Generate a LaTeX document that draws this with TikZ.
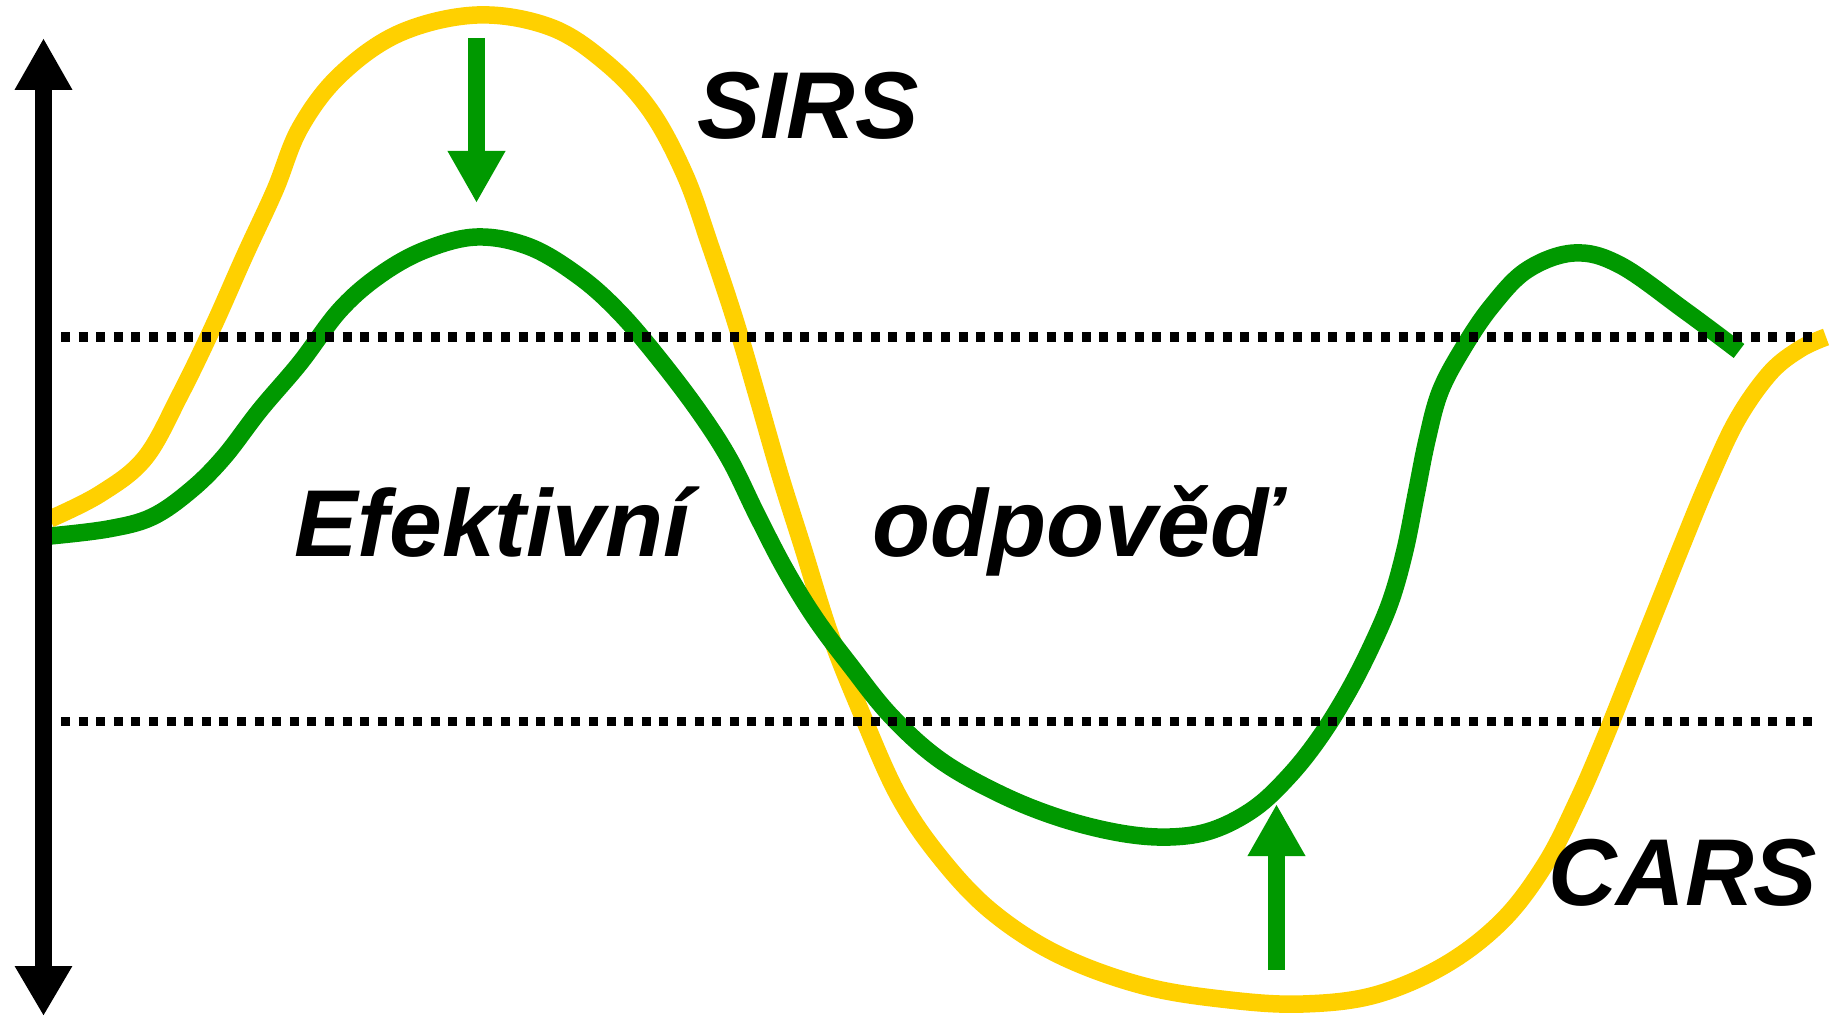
\documentclass[tikz,border=0pt]{standalone}
\usepackage{fontspec}
\setmainfont{Liberation Sans}
\usetikzlibrary{arrows.meta}
\definecolor{sirsyellow}{RGB}{255,208,0}
\definecolor{respgreen}{RGB}{0,153,0}
\tikzset{
  curveline/.style={line width=17.5pt, line cap=butt, line join=round},
  dotline/.style={line width=9pt, dash pattern=on 9pt off 8.6pt, black},
  bigarrow/.style={line width=17pt, -{Triangle[width=54pt,length=52pt]}},
  bigtext/.style={inner sep=0pt, anchor=base west, font=\fontsize{95}{100}\selectfont\bfseries\itshape},
}
\begin{document}
\begin{tikzpicture}[x=1pt,y=-1pt]
\useasboundingbox (0,0) rectangle (1834,1016);
% yellow SIRS/CARS curve
\draw[curveline, sirsyellow] plot[smooth, tension=0.6] coordinates {
(50,519) (100,494) (145,458) (180,395) (213,327) (245,255) (275,190) (300,128)
(340,75) (400,33) (477,15) (550,27) (605,62) (650,110) (685,175) (710,245)
(735,320) (757,395) (780,475) (803,548) (830,634) (861,712) (898,795) (939,856)
(991,911) (1059,955) (1144,986) (1230,1000) (1303,1004) (1375,995) (1445,965)
(1503,920) (1546,863) (1578,800) (1604,740) (1630,675) (1656,610) (1682,545)
(1708,482) (1737,420) (1770,373) (1800,349) (1826,337)};
% green effective response curve
\draw[curveline, respgreen] plot[smooth, tension=0.6] coordinates {
(50,536) (108,529) (152,517) (191,490) (224,457) (260,410) (300,363) (340,310)
(380,275) (425,250) (477,237) (530,247) (580,277) (620,313) (660,360) (700,413)
(730,460) (757,515) (785,569) (815,618) (850,665) (891,716) (940,760) (1000,794)
(1060,818) (1120,833) (1170,837) (1213,830) (1255,808) (1290,775) (1320,737)
(1348,692) (1372,645) (1391,600) (1405,550) (1416,495) (1427,440) (1440,392)
(1462,350) (1491,307) (1527,270) (1574,253) (1620,265) (1684,310) (1739,351)};
% thresholds
\coordinate (t1a) at (61,337); \coordinate (t1b) at (1812,337);
\coordinate (t2a) at (61,721); \coordinate (t2b) at (1812,721);
\draw[dotline] (t1a) -- (t1b);
\draw[dotline] (t2a) -- (t2b);
% vertical axis
\coordinate (axtop) at (43.5,38); \coordinate (axbot) at (43.5,1016);
\draw[line width=17pt, {Triangle[width=54pt,length=50pt]}-{Triangle[width=54pt,length=52pt]}] (axbot) -- (axtop);
% green arrows
\coordinate (d1) at (476.5,38); \coordinate (d2) at (476.5,203);
\draw[bigarrow, respgreen] (d1) -- (d2);
\coordinate (u1) at (1276.5,970); \coordinate (u2) at (1276.5,804);
\draw[bigarrow, respgreen] (u1) -- (u2);
% labels
\node[bigtext] (sirs) at (697,139) {SIRS};
\node[bigtext] (cars) at (1548,905) {CARS};
\node[bigtext] (ef) at (294,556) {Efektivní};
\node[bigtext] (odp) at (872,556) {odpověď};
\end{tikzpicture}
\end{document}
